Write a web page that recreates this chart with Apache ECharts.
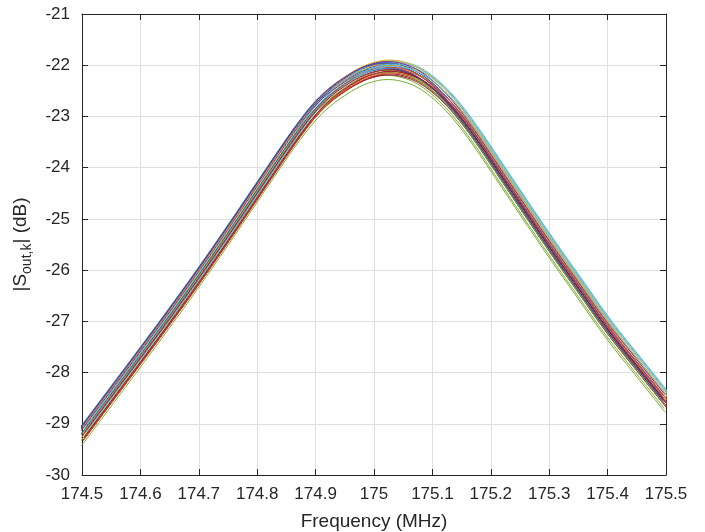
<!DOCTYPE html>
<html>
<head>
<meta charset="utf-8">
<script src="https://cdn.jsdelivr.net/npm/echarts@6/dist/echarts.min.js"></script>
<style>
  html, body { margin: 0; padding: 0; background: #fff; }
  #chart { width: 705px; height: 532px; }
</style>
</head>
<body>
<div id="chart"></div>
<script>
// mean trace (MHz, dB)
const freqMHz = [174.5, 174.55, 174.6, 174.65, 174.7, 174.75, 174.8, 174.85, 174.875, 174.9,
  174.925, 174.95, 174.975, 175.0, 175.025, 175.05, 175.075, 175.1, 175.125, 175.15,
  175.175, 175.2, 175.25, 175.3, 175.35, 175.4, 175.45, 175.5];
const meanDb = [-29.2, -28.44, -27.68, -26.91, -26.12, -25.3, -24.46, -23.62, -23.22, -22.86,
  -22.58, -22.37, -22.2, -22.09, -22.05, -22.09, -22.2, -22.4, -22.67, -23.01,
  -23.4, -23.82, -24.67, -25.51, -26.32, -27.12, -27.84, -28.55];

// per-trace level offset (dB) and frequency offset (MHz), estimated from the band
const levelOffsets = [0.07, -0.07, 0.13, 0.05, -0.15, 0.11, -0.12,
  0.02, -0.03, 0.09, 0.09, -0.09, 0.14, -0.14,
  0.10, -0.10, 0.05, 0.00, -0.05, 0.07, -0.07,
  -0.02, 0.01, 0.15, 0.12, -0.23, 0.03, -0.04];
const freqOffsets = [-0.006, 0.005, 0.003, -0.005, -0.003, 0.007, 0.002,
  -0.007, 0.006, 0.002, -0.004, -0.002, 0.006, 0.001,
  -0.005, 0.004, 0.004, -0.006, -0.004, 0.008, 0.003,
  -0.003, 0.002, 0.001, -0.002, -0.001, 0.007, 0.000];

const colors = ['#0072BD', '#D95319', '#EDB120', '#7E2F8E', '#77AC30', '#4DBEEE', '#A2142F'];
const xTicks = { min: 174.5, max: 175.5, step: 0.1 };
const yTicks = { min: -30, max: -21, step: 1 };

const axisColor = '#262626';
const fontName = 'Liberation Sans, Arial, sans-serif';
const labelFont = { fontFamily: fontName, fontSize: 17, color: axisColor };

const series = levelOffsets.map((dy, k) => ({
  type: 'line',
  showSymbol: false,
  smooth: 0.4,
  clip: true,
  lineStyle: { width: 1, color: colors[k % colors.length] },
  data: freqMHz.map((f, i) => [f + freqOffsets[k], meanDb[i] + dy])
}));

const chart = echarts.init(document.getElementById('chart'));
chart.setOption({
  animation: false,
  backgroundColor: '#fff',
  grid: { left: 82, right: 39, top: 14, bottom: 57, containLabel: false, outerBoundsMode: 'none' },
  xAxis: [
    {
      type: 'value',
      min: xTicks.min, max: xTicks.max, interval: xTicks.step,
      name: 'Frequency (MHz)',
      nameLocation: 'middle',
      nameGap: 37,
      nameTextStyle: { fontFamily: fontName, fontSize: 19, color: axisColor },
      axisLine: { show: true, lineStyle: { color: axisColor, width: 1 } },
      axisTick: { show: true, inside: true, length: 6, lineStyle: { color: axisColor } },
      axisLabel: {
        ...labelFont, margin: 11,
        formatter: v => String(Number(v.toFixed(1)))
      },
      splitLine: { show: true, lineStyle: { color: '#dfdfdf', width: 1 } }
    },
    {
      type: 'value', position: 'top',
      min: xTicks.min, max: xTicks.max, interval: xTicks.step,
      axisLine: { show: true, lineStyle: { color: axisColor, width: 1 } },
      axisTick: { show: true, inside: true, length: 6, lineStyle: { color: axisColor } },
      axisLabel: { show: false },
      splitLine: { show: false }
    }
  ],
  yAxis: [
    {
      type: 'value',
      min: yTicks.min, max: yTicks.max, interval: yTicks.step,
      name: '|S{s|out,k}| (dB)',
      nameLocation: 'middle',
      nameGap: 48,
      nameTextStyle: {
        fontFamily: fontName, fontSize: 19, color: axisColor,
        rich: { s: { fontFamily: fontName, fontSize: 14, color: axisColor, padding: [13, 0, 0, 0] } }
      },
      axisLine: { show: true, lineStyle: { color: axisColor, width: 1 } },
      axisTick: { show: true, inside: true, length: 6, lineStyle: { color: axisColor } },
      axisLabel: { ...labelFont, margin: 12 },
      splitLine: { show: true, lineStyle: { color: '#dfdfdf', width: 1 } }
    },
    {
      type: 'value', position: 'right',
      min: yTicks.min, max: yTicks.max, interval: yTicks.step,
      axisLine: { show: true, lineStyle: { color: axisColor, width: 1 } },
      axisTick: { show: true, inside: true, length: 6, lineStyle: { color: axisColor } },
      axisLabel: { show: false },
      splitLine: { show: false }
    }
  ],
  series: series
});
</script>
</body>
</html>
